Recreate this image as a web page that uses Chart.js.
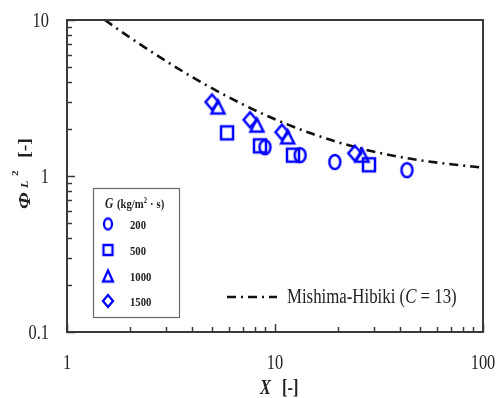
<!DOCTYPE html>
<html><head><meta charset="utf-8">
<script src="https://cdn.jsdelivr.net/npm/chart.js@4/dist/chart.umd.min.js"></script>
<style>html,body{margin:0;padding:0;background:#fff}#wrap{width:498px;height:398px;position:relative}</style>
</head><body><div id="wrap"><canvas id="c"></canvas></div>
<script>
// ---- data ----
const g200X = [8.95, 13.2, 19.4, 43.1];
const g200Y = [1.53, 1.36, 1.23, 1.09];
const g500X = [5.88, 8.47, 12.2, 28.3];
const g500Y = [1.89, 1.56, 1.36, 1.18];
const g1000X = [5.32, 8.19, 11.5, 26.2];
const g1000Y = [2.77, 2.12, 1.78, 1.36];
const g1500X = [4.98, 7.59, 10.8, 24.2];
const g1500Y = [2.98, 2.29, 1.91, 1.40];
const curveX = [1.52, 2, 3, 4, 5, 7, 10, 15, 20, 30, 50, 70, 100];
const curveY = [10.0, 7.75, 5.44, 4.31, 3.64, 2.88, 2.31, 1.87, 1.65, 1.43, 1.26, 1.19, 1.13];
const xTickLabels = [1, 10, 100];
const yTickLabels = [0.1, 1, 10];
const xMinor = [2,3,4,5,6,7,8,9,20,30,40,50,60,70,80,90];
const yMinor = [0.2,0.3,0.4,0.5,0.6,0.7,0.8,0.9,2,3,4,5,6,7,8,9];
const seriesLabels = ['200', '500', '1000', '1500'];
const curveLabel = 'Mishima-Hibiki';

const BLUE = 'rgb(0,0,255)';
const SERIF = '"Liberation Serif", "DejaVu Serif", serif';
const SQ = 0.82; // horizontal text compression seen in the reference

function marker(shape, w, h, lw) {
  const c = document.createElement('canvas');
  const pad = Math.ceil(lw) + 1;
  c.width = w + 2 * pad; c.height = h + 2 * pad;
  const ctx = c.getContext('2d');
  ctx.strokeStyle = BLUE; ctx.lineWidth = lw; ctx.lineJoin = 'miter';
  const cx = c.width / 2, cy = c.height / 2;
  ctx.beginPath();
  if (shape === 'circle') ctx.ellipse(cx, cy, w / 2, h / 2, 0, 0, Math.PI * 2);
  else if (shape === 'square') ctx.rect(cx - w / 2, cy - h / 2, w, h);
  else if (shape === 'triangle') { ctx.moveTo(cx, cy - h / 2); ctx.lineTo(cx + w / 2, cy + h / 2); ctx.lineTo(cx - w / 2, cy + h / 2); ctx.closePath(); }
  else { ctx.moveTo(cx, cy - h / 2); ctx.lineTo(cx + w / 2, cy); ctx.lineTo(cx, cy + h / 2); ctx.lineTo(cx - w / 2, cy); ctx.closePath(); }
  ctx.stroke();
  return c;
}
const plotMarkers = [marker('circle', 11, 14, 2.5), marker('square', 12, 13, 2.5), marker('triangle', 13, 13, 2.5), marker('diamond', 13, 15, 2.5)];
const legMarkers = [marker('circle', 8, 11, 2.3), marker('square', 9, 10, 2.3), marker('triangle', 10, 11, 2.3), marker('diamond', 10, 12, 2.3)];

const pts = (xs, ys) => xs.map((x, i) => ({ x, y: ys[i] }));
const series = [[g200X, g200Y], [g500X, g500Y], [g1000X, g1000Y], [g1500X, g1500Y]];

const datasets = series.map((s, i) => ({
  label: seriesLabels[i], data: pts(s[0], s[1]), showLine: false,
  pointStyle: plotMarkers[i], pointRadius: 7, pointHoverRadius: 7
}));
datasets.push({
  label: curveLabel, data: pts(curveX, curveY), showLine: true, type: 'line',
  borderColor: '#111', borderWidth: 2.6, borderDash: [9, 5, 2, 5], pointRadius: 0,
  tension: 0.4, cubicInterpolationMode: 'monotone', fill: false
});

// text helper: draws squeezed text, returns advance width
function txt(ctx, t, font, x, y, align) {
  ctx.font = font;
  const w = ctx.measureText(t).width * SQ;
  let x0 = x;
  if (align === 'right') x0 = x - w; else if (align === 'center') x0 = x - w / 2;
  ctx.save(); ctx.translate(x0, y); ctx.scale(SQ, 1); ctx.textAlign = 'left'; ctx.fillText(t, 0, 0); ctx.restore();
  return w;
}
function rich(ctx, parts, x, y) {
  let cx = x;
  for (const p of parts) {
    if (p.at !== undefined) cx = x + p.at;
    cx += txt(ctx, p.t, p.font, cx, y + (p.dy || 0)) + (p.gap || 0);
  }
}

const deco = {
  id: 'deco',
  afterDraw(chart) {
    const ctx = chart.ctx, a = chart.chartArea, xs = chart.scales.x, ys = chart.scales.y;
    ctx.save();
    // frame
    ctx.strokeStyle = '#3a3a3a'; ctx.lineWidth = 2;
    ctx.strokeRect(a.left, a.top, a.right - a.left, a.bottom - a.top);
    // ticks (inward)
    ctx.lineWidth = 1.5;
    ctx.beginPath();
    for (const v of xMinor) { const px = Math.round(xs.getPixelForValue(v)) + 0.5; ctx.moveTo(px, a.bottom); ctx.lineTo(px, a.bottom - 5); }
    for (const v of xTickLabels) { const px = Math.round(xs.getPixelForValue(v)) + 0.5; ctx.moveTo(px, a.bottom); ctx.lineTo(px, a.bottom - 8); }
    for (const v of yMinor) { const py = Math.round(ys.getPixelForValue(v)) + 0.5; ctx.moveTo(a.left, py); ctx.lineTo(a.left + 5, py); }
    for (const v of yTickLabels) { const py = Math.round(ys.getPixelForValue(v)) + 0.5; ctx.moveTo(a.left, py); ctx.lineTo(a.left + 8, py); }
    ctx.stroke();

    ctx.fillStyle = '#222'; ctx.textBaseline = 'alphabetic';
    // tick labels
    const tf = '20px ' + SERIF;
    for (const v of xTickLabels) txt(ctx, String(v), tf, xs.getPixelForValue(v), 369, 'center');
    for (const v of yTickLabels) txt(ctx, String(v), tf, 49, ys.getPixelForValue(v) + 7, 'right');

    // x title
    rich(ctx, [
      { t: 'X', font: 'italic bold 20px ' + SERIF },
      { t: '[-]', font: 'bold 20px ' + SERIF, at: 22 }
    ], 260, 394);

    // y title (rotated; text direction along y, glyph height squeezed)
    ctx.save();
    ctx.translate(30, 208);
    ctx.rotate(-Math.PI / 2);
    const rpart = (t, font, u, v) => { ctx.font = font; ctx.save(); ctx.translate(u, v); ctx.scale(1, SQ); ctx.textAlign = 'left'; ctx.fillText(t, 0, 0); ctx.restore(); };
    rpart('Φ', 'italic bold 21px ' + SERIF, -1, 0);
    rpart('L', 'italic bold 12px ' + SERIF, 20, -2);
    rpart('2', 'bold 11px ' + SERIF, 32, -12);
    rpart('[-]', 'bold 20px ' + SERIF, 50, 0);
    ctx.restore();

    // legend box
    ctx.strokeStyle = '#6a6a6a'; ctx.lineWidth = 1.2;
    ctx.strokeRect(93.5, 188.5, 86, 129);
    rich(ctx, [
      { t: 'G', font: 'italic bold 14px ' + SERIF },
      { t: '(kg/m', font: 'bold 13px ' + SERIF, at: 12 },
      { t: '2', font: 'bold 8px ' + SERIF, dy: -5, gap: 3 },
      { t: '·', font: 'bold 13px ' + SERIF, gap: 3 },
      { t: 's)', font: 'bold 13px ' + SERIF }
    ], 105, 208);
    const rowY = [224, 250, 276, 301];
    for (let i = 0; i < 4; i++) {
      const m = legMarkers[i];
      ctx.drawImage(m, 108 - m.width / 2, rowY[i] - m.height / 2);
      txt(ctx, seriesLabels[i], 'bold 13px ' + SERIF, 130, rowY[i] + 5);
    }
    // curve legend
    ctx.strokeStyle = '#111'; ctx.lineWidth = 2.6; ctx.setLineDash([9, 5, 2, 5]);
    ctx.beginPath(); ctx.moveTo(227, 297); ctx.lineTo(277, 297); ctx.stroke();
    ctx.setLineDash([]);
    ctx.fillStyle = '#222';
    rich(ctx, [
      { t: curveLabel + ' (', font: '20.5px ' + SERIF },
      { t: 'C', font: 'italic 20.5px ' + SERIF },
      { t: ' = 13)', font: '20.5px ' + SERIF }
    ], 287, 303);
    ctx.restore();
  }
};

new Chart(document.getElementById('c'), {
  type: 'scatter',
  data: { datasets },
  options: {
    responsive: true, maintainAspectRatio: false, animation: false,
    layout: { padding: { top: 20, right: 15, left: 0, bottom: 0 } },
    plugins: { legend: { display: false }, tooltip: { enabled: false } },
    scales: {
      x: {
        type: 'logarithmic', min: 1, max: 100,
        grid: { display: false, drawTicks: false }, border: { display: false },
        afterBuildTicks: s => { s.ticks = xTickLabels.map(v => ({ value: v })); },
        afterFit: s => { s.height = 66; s.paddingLeft = 0; s.paddingRight = 0; },
        ticks: { display: false }
      },
      y: {
        type: 'logarithmic', min: 0.1, max: 10,
        grid: { display: false, drawTicks: false }, border: { display: false },
        afterBuildTicks: s => { s.ticks = yTickLabels.map(v => ({ value: v })); },
        afterFit: s => { s.width = 67; s.paddingTop = 0; s.paddingBottom = 0; },
        ticks: { display: false }
      }
    }
  },
  plugins: [deco]
});
</script></body></html>
